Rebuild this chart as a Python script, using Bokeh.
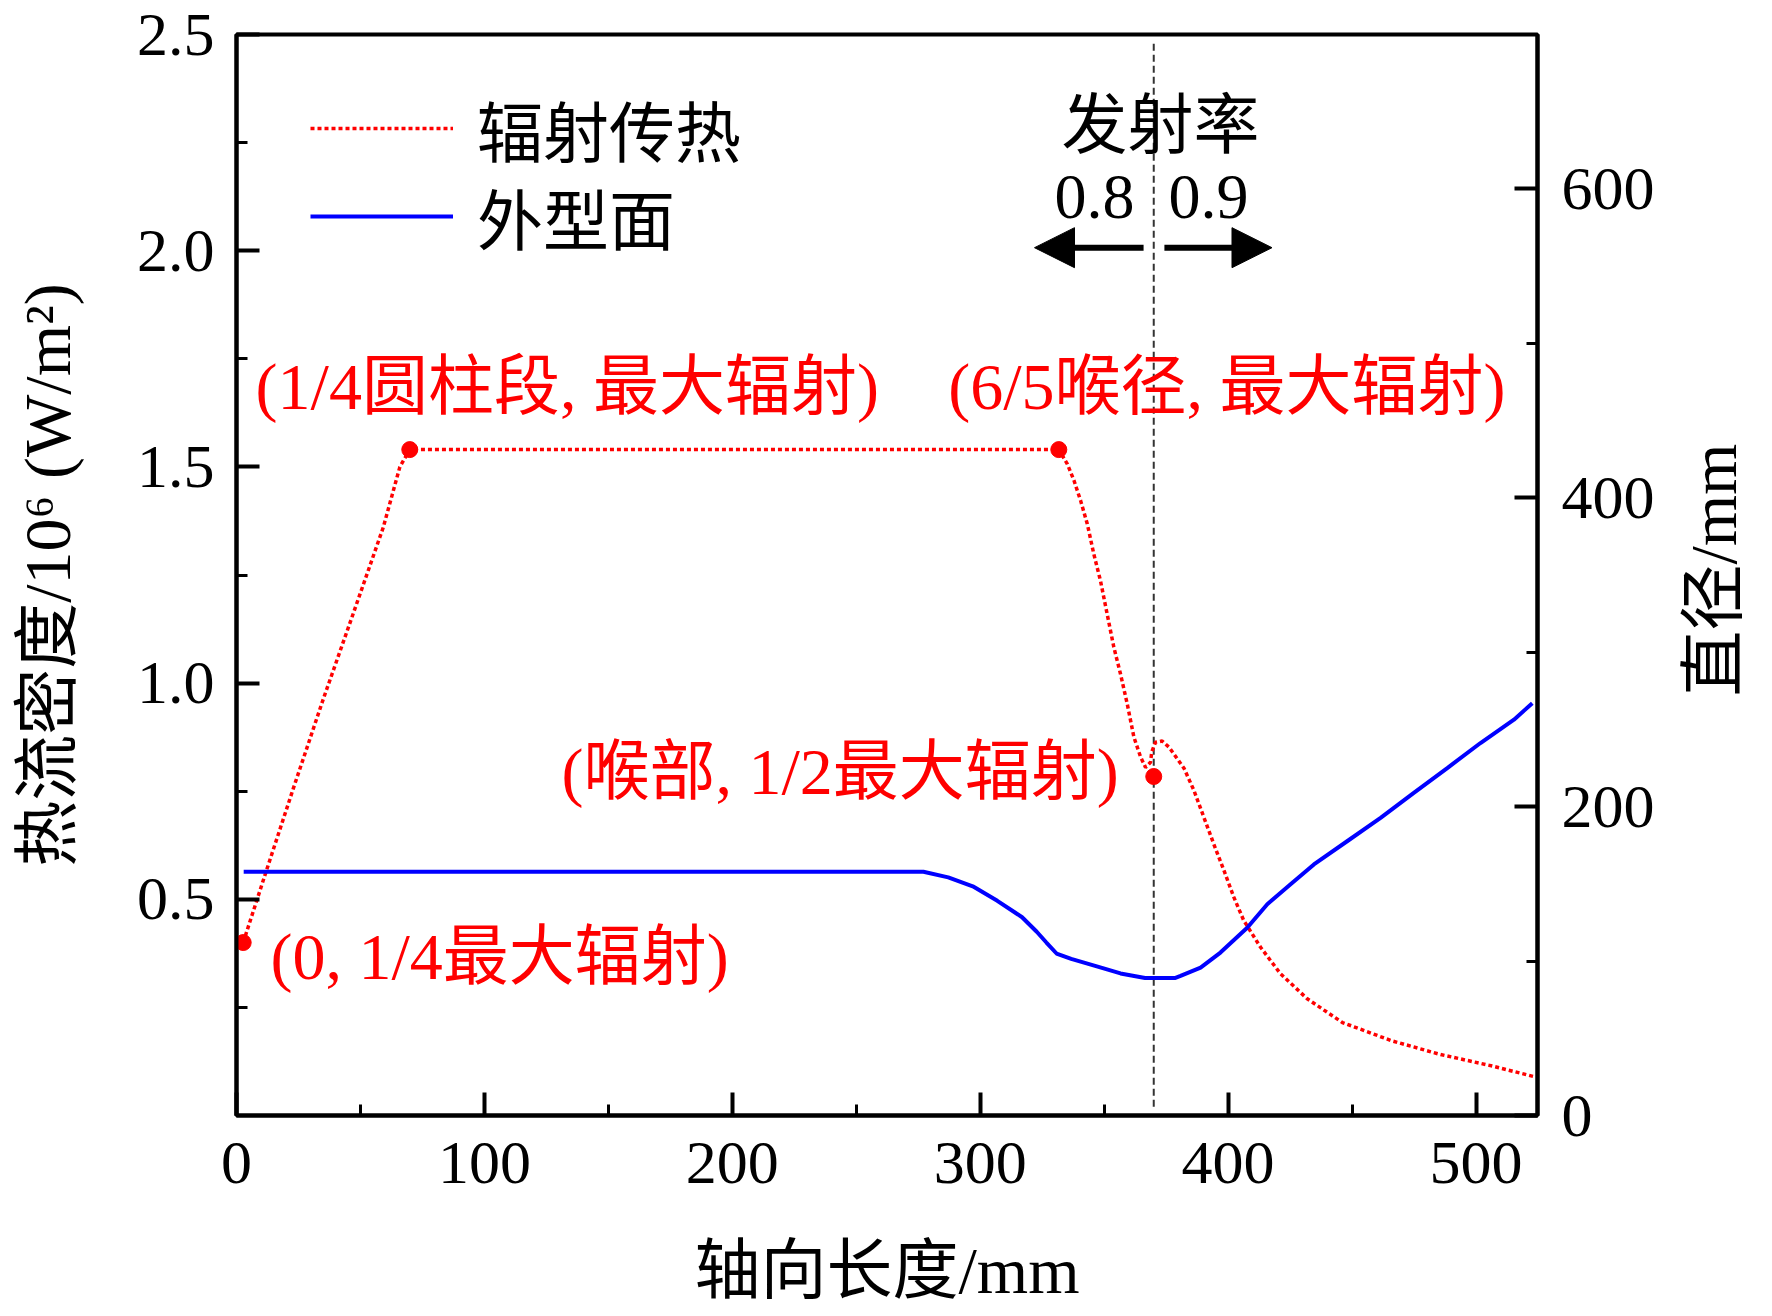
import math
from bokeh.plotting import figure
from bokeh.layouts import row
from bokeh.models import (Range1d, LinearAxis, FixedTicker, PrintfTickFormatter,
                          Legend, LegendItem, Label, Arrow, NormalHead)
from bokeh.core.properties import value
from bokeh.embed import file_html
from bokeh.resources import INLINE

# ---------------- data ----------------
# radiative heat flux (10^6 W/m^2) vs axial length (mm)
rad_x = [2.7, 12.1, 22.9, 35.0, 47.1, 59.2, 65.9, 69.9,
         331.7, 335.1, 337.8, 340.5, 343.2, 345.8, 348.5, 351.2, 353.9, 356.6,
         359.3, 362.0, 364.7, 366.7, 368.7, 369.2, 370.7, 373.4, 376.1, 379.5,
         382.2, 386.2, 390.2, 394.2, 398.3, 402.3, 406.3, 413.1, 421.1, 431.9,
         446.1, 465.9, 485.7, 505.4, 523.4]
rad_y = [0.40, 0.567, 0.756, 0.963, 1.161, 1.360, 1.500, 1.540,
         1.540, 1.507, 1.469, 1.422, 1.368, 1.299, 1.237, 1.160, 1.083, 1.021,
         0.952, 0.875, 0.829, 0.805, 0.817, 0.841, 0.863, 0.866, 0.852, 0.825,
         0.803, 0.752, 0.690, 0.628, 0.567, 0.505, 0.451, 0.389, 0.328, 0.270,
         0.215, 0.173, 0.141, 0.116, 0.090]

# key points (markers)
key_x = [2.7, 69.9, 331.7, 370.0]
key_y = [0.40, 1.540, 1.540, 0.784]

# outer profile diameter (mm) vs axial length (mm)
prof_x = [2.9, 277.1, 287.1, 297.0, 306.9, 316.9, 322.8, 326.7, 330.8, 336.7,
          346.7, 356.6, 366.5, 378.5, 380.8, 388.9, 396.9, 407.7, 415.8, 425.2,
          434.6, 448.0, 461.5, 474.9, 488.4, 501.8, 515.3, 522.7]
prof_d = [157.8, 157.8, 154.2, 148.4, 139.0, 128.4, 119.0, 112.0, 104.9, 101.4,
          96.7, 92.0, 89.0, 89.0, 90.4, 95.8, 105.5, 121.6, 136.8, 149.7,
          162.6, 177.6, 192.7, 208.9, 225.0, 241.2, 256.3, 267.0]

throat_x = 370.0
throat_line_y = [0.02, 2.48]

x_ticks = [0, 100, 200, 300, 400, 500]
x_minor = [50, 150, 250, 350, 450]
yl_ticks = [0.5, 1.0, 1.5, 2.0, 2.5]
yl_minor = [0.25, 0.75, 1.25, 1.75, 2.25]
yr_ticks = [0, 200, 400, 600]
yr_minor = [100, 300, 500, 700]

# annotations
ann_texts = ["(1/4圆柱段, 最大辐射)", "(6/5喉径, 最大辐射)", "(喉部, 1/2最大辐射)", "(0, 1/4最大辐射)"]
ann_x = [7.7, 287.1, 131.1, 13.7]
ann_y = [1.686, 1.686, 0.796, 0.368]

RIGHT_TITLE = "直径/mm"

SERIF = "Liberation Serif, Noto Sans CJK SC"
RED = "#ff0000"
BLUE = "#0000ff"

MAIN_W = 1672
SIDE_W = 100
H = 1316

p = figure(width=MAIN_W, height=H, output_backend="svg", toolbar_location=None,
           x_range=Range1d(0, 524.8), y_range=Range1d(0, 2.5),
           min_border_left=236, min_border_right=MAIN_W - 1537, min_border_top=34,
           min_border_bottom=201)
p.extra_y_ranges = {"d": Range1d(0, 700)}
p.xgrid.visible = False
p.ygrid.visible = False
p.outline_line_color = "black"
p.outline_line_width = 4
p.outline_line_alpha = 1.0
p.background_fill_color = "white"
p.border_fill_color = "white"

def style_axis(ax, ticks, minor, standoff):
    ax.ticker = FixedTicker(ticks=ticks, minor_ticks=minor)
    ax.axis_line_width = 4
    ax.axis_line_color = "black"
    ax.major_tick_in = 23
    ax.major_tick_out = 0
    ax.minor_tick_in = 11
    ax.minor_tick_out = 0
    ax.major_tick_line_width = 4
    ax.minor_tick_line_width = 3
    ax.major_tick_line_color = "black"
    ax.minor_tick_line_color = "black"
    ax.major_label_text_font = SERIF
    ax.major_label_text_font_size = "62px"
    ax.major_label_text_color = "black"
    ax.major_label_standoff = standoff
    ax.axis_label_text_font = SERIF
    ax.axis_label_text_font_size = "66px"
    ax.axis_label_text_font_style = "normal"
    ax.axis_label_text_color = "black"

style_axis(p.xaxis[0], x_ticks, x_minor, 27)
p.xaxis[0].axis_label = "轴向长度/mm"
p.xaxis[0].axis_label_standoff = 48

style_axis(p.yaxis[0], yl_ticks, yl_minor, 22)
p.yaxis[0].formatter = PrintfTickFormatter(format="%.1f")
p.yaxis[0].axis_label = "热流密度/10⁶ (W/m²)"
p.yaxis[0].axis_label_standoff = 50

raxis = LinearAxis(y_range_name="d")
style_axis(raxis, yr_ticks, yr_minor, 24)
p.add_layout(raxis, "right")

# throat dashed line
p.line([throat_x, throat_x], throat_line_y, line_color="#333333", line_width=2,
       line_dash="7 4")

red_line = p.line(rad_x, rad_y, line_color=RED, line_width=3.5, line_dash="4 3")
p.scatter(key_x, key_y, size=16, color=RED)
blue_line = p.line(prof_x, prof_d, y_range_name="d", line_color=BLUE, line_width=4)

def make_legend(label, renderer, y):
    return Legend(items=[LegendItem(label=label, renderers=[renderer])],
                  location=(74, y), orientation="vertical",
                  padding=0, margin=0, spacing=0,
                  glyph_width=143, glyph_height=88, label_height=88,
                  label_standoff=24, label_text_font=SERIF,
                  label_text_font_size="66px", label_text_color="black",
                  border_line_alpha=0, background_fill_alpha=0)

p.add_layout(make_legend("辐射传热", red_line, 939), "center")
p.add_layout(make_legend("外型面", blue_line, 851), "center")

for t, x, y in zip(ann_texts, ann_x, ann_y):
    p.add_layout(Label(x=x, y=y, text=t, text_align="left", text_baseline="middle",
                       text_font=SERIF, text_font_size="66px", text_color=RED))

# emissivity annotation
p.add_layout(Label(x=372.7, y=2.29, text="发射率", text_align="center",
                   text_baseline="middle", text_font=SERIF, text_font_size="66px",
                   text_color="black"))
p.add_layout(Label(x=346.1, y=2.125, text="0.8", text_align="center",
                   text_baseline="middle", text_font=SERIF, text_font_size="64px",
                   text_color="black"))
p.add_layout(Label(x=392.1, y=2.125, text="0.9", text_align="center",
                   text_baseline="middle", text_font=SERIF, text_font_size="64px",
                   text_color="black"))
p.add_layout(Arrow(end=NormalHead(size=40, fill_color="black", line_color="black"),
                   x_start=365.9, y_start=2.007, x_end=321.9, y_end=2.007,
                   line_width=6, line_color="black"))
p.add_layout(Arrow(end=NormalHead(size=40, fill_color="black", line_color="black"),
                   x_start=374.3, y_start=2.007, x_end=417.7, y_end=2.007,
                   line_width=6, line_color="black"))

# narrow side panel carrying the right-axis title (reads bottom-to-top)
side = figure(width=SIDE_W, height=H, output_backend="svg", toolbar_location=None,
              x_range=Range1d(0, SIDE_W), y_range=Range1d(0, H),
              x_axis_location=None, y_axis_location=None,
              min_border=0, min_border_left=0, min_border_right=0,
              min_border_top=0, min_border_bottom=0)
side.xgrid.visible = False
side.ygrid.visible = False
side.outline_line_color = None
side.background_fill_color = "white"
side.border_fill_color = "white"
side.text(x=[41], y=[664], text=[RIGHT_TITLE], angle=math.pi / 2,
          text_align="center", text_baseline="middle",
          text_font=value(SERIF), text_font_size="66px", text_color="black")

page = row(p, side, spacing=0)
open("out.html", "w").write(file_html(page, INLINE))
